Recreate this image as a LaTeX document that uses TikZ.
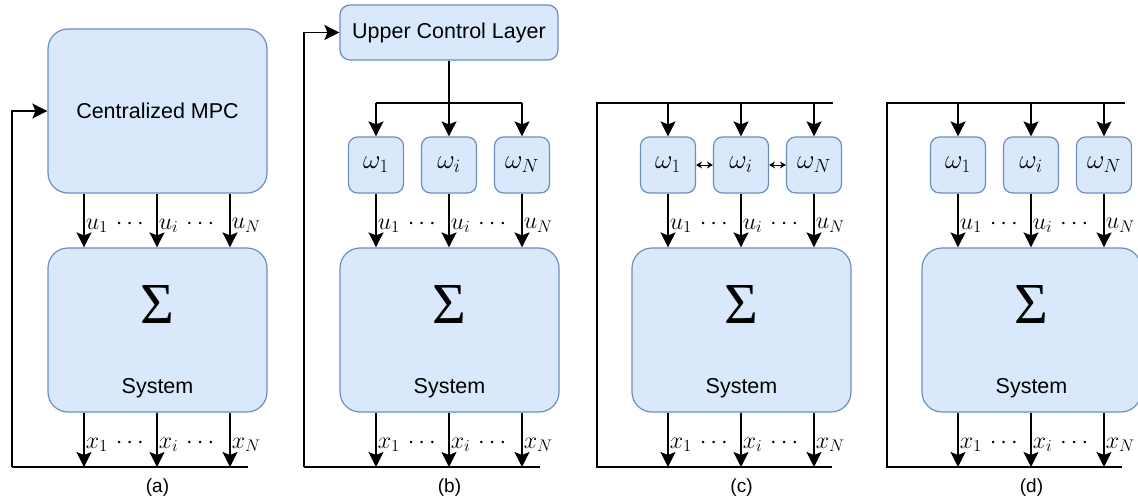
\RequirePackage{fix-cm}
\documentclass[tikz,border=0pt]{standalone}
\usepackage{fontspec}
\setmainfont{Liberation Sans}
\newfontfamily\sigmafont{Liberation Serif}
\usetikzlibrary{arrows.meta,calc}
\definecolor{boxfill}{HTML}{DAE8FC}
\definecolor{boxdraw}{HTML}{6C8EBF}
\newcommand\txtfont{\fontsize{21.5}{25}\selectfont}
\newcommand\ufont{\fontsize{24}{28}\selectfont}
\newcommand\wfont{\fontsize{27}{30}\selectfont}
\begin{document}
\begin{tikzpicture}[x=1pt,y=-1pt,
  bigbox/.style={draw=boxdraw, fill=boxfill, line width=1.2pt, rounded corners=20pt,
    inner sep=0pt, minimum width=219pt, minimum height=164pt, font=\txtfont},
  topbox/.style={draw=boxdraw, fill=boxfill, line width=1.2pt, rounded corners=10pt,
    inner sep=0pt, minimum width=218pt, minimum height=55pt, font=\txtfont},
  wbox/.style={draw=boxdraw, fill=boxfill, line width=1.2pt, rounded corners=9pt,
    minimum width=55pt, minimum height=56pt, inner sep=0pt, font=\wfont},
  arr/.style={line width=1.5pt, -{Stealth[length=15pt,width=15pt,inset=3pt]}},
  ln/.style={line width=1.5pt},
  dbl/.style={line width=1pt, {Stealth[length=6pt,width=7pt]}-{Stealth[length=6pt,width=7pt]}},
  lab/.style={right, inner sep=1pt, font=\ufont},
  sig/.style={font=\sigmafont\fontsize{58}{60}\selectfont, inner sep=0pt},
  systxt/.style={font=\txtfont, inner sep=0pt, anchor=base},
  captxt/.style={font=\fontsize{19}{22}\selectfont, inner sep=0pt}]
\useasboundingbox (0,0) rectangle (1138,501);

% common macro for system box and outputs
\newcommand\systemblock{%
  \coordinate (c1) at (84,0);
  \coordinate (c2) at (157,0);
  \coordinate (c3) at (230,0);
  \node[bigbox] (sys) at (157.5,330) {};
  \node[sig] (sigma) at (157.5,305) {Σ};
  \node[systxt] (systext) at (157.5,393) {System};
  \coordinate (bl) at (12,467);
  \coordinate (br) at (248,467);
  \draw[arr] (sys.south -| c1) -- node[lab, yshift=-5pt] {$x_1\,\cdots$} (bl -| c1);
  \draw[arr] (sys.south -| c2) -- node[lab, yshift=-5pt] {$x_i\,\cdots$} (bl -| c2);
  \draw[arr] (sys.south -| c3) -- node[lab, yshift=-5pt] {$x_N$} (bl -| c3);
}

% ---------------- (a)
\begin{scope}[name prefix=a-]
  \systemblock
  \node[bigbox] (mpc) at (157.5,111) {Centralized MPC};
  \draw[arr] (mpc.south -| c1) -- node[lab, yshift=-5pt] {$u_1\,\cdots$} (sys.north -| c1);
  \draw[arr] (mpc.south -| c2) -- node[lab, yshift=-5pt] {$u_i\,\cdots$} (sys.north -| c2);
  \draw[arr] (mpc.south -| c3) -- node[lab, yshift=-5pt] {$u_N$} (sys.north -| c3);
  \draw[ln] (br) -- (bl);
  \draw[arr] (bl) |- (mpc.west);
  \node[captxt] (cap) at (157.5,488) {(a)};
\end{scope}

% ---------------- (b)
\begin{scope}[xshift=292pt, name prefix=b-]
  \systemblock
  \node[topbox] (ulc) at (157,32.5) {Upper Control Layer};
  \node[wbox] (w1) at (84,165) {$\omega_1$};
  \node[wbox] (wi) at (157,165) {$\omega_i$};
  \node[wbox] (wN) at (230,165) {$\omega_N$};
  \coordinate (j) at (157,103);
  \draw[ln] (ulc.south) -- (j);
  \draw[ln] (j -| w1) -- (j -| wN);
  \draw[arr] (j -| w1) -- (w1.north);
  \draw[arr] (j) -- (wi.north);
  \draw[arr] (j -| wN) -- (wN.north);
  \draw[arr] (w1.south) -- node[lab, yshift=-5pt] {$u_1\,\cdots$} (sys.north -| w1);
  \draw[arr] (wi.south) -- node[lab, yshift=-5pt] {$u_i\,\cdots$} (sys.north -| wi);
  \draw[arr] (wN.south) -- node[lab, yshift=-5pt] {$u_N$} (sys.north -| wN);
  \draw[ln] (br) -- (bl);
  \draw[arr] (bl) |- (ulc.west);
  \node[captxt] (cap) at (157.5,488) {(b)};
\end{scope}

% ---------------- (c)
\begin{scope}[xshift=584pt, name prefix=c-]
  \systemblock
  \node[wbox] (w1) at (84,165) {$\omega_1$};
  \node[wbox] (wi) at (157,165) {$\omega_i$};
  \node[wbox] (wN) at (230,165) {$\omega_N$};
  \coordinate (tl) at (13,103);
  \coordinate (tr) at (249,103);
  \draw[ln] (br) -- (bl -| tl) -- (tl) -- (tr);
  \draw[arr] (tl -| w1) -- (w1.north);
  \draw[arr] (tl -| wi) -- (wi.north);
  \draw[arr] (tl -| wN) -- (wN.north);
  \draw[dbl] (w1.east) -- (wi.west);
  \draw[dbl] (wi.east) -- (wN.west);
  \draw[arr] (w1.south) -- node[lab, yshift=-5pt] {$u_1\,\cdots$} (sys.north -| w1);
  \draw[arr] (wi.south) -- node[lab, yshift=-5pt] {$u_i\,\cdots$} (sys.north -| wi);
  \draw[arr] (wN.south) -- node[lab, yshift=-5pt] {$u_N$} (sys.north -| wN);
  \node[captxt] (cap) at (157.5,488) {(c)};
\end{scope}

% ---------------- (d)
\begin{scope}[xshift=874pt, name prefix=d-]
  \systemblock
  \node[wbox] (w1) at (84,165) {$\omega_1$};
  \node[wbox] (wi) at (157,165) {$\omega_i$};
  \node[wbox] (wN) at (230,165) {$\omega_N$};
  \coordinate (tl) at (13,103);
  \coordinate (tr) at (251,103);
  \draw[ln] (br) -- (bl -| tl) -- (tl) -- (tr);
  \draw[arr] (tl -| w1) -- (w1.north);
  \draw[arr] (tl -| wi) -- (wi.north);
  \draw[arr] (tl -| wN) -- (wN.north);
  \draw[arr] (w1.south) -- node[lab, yshift=-5pt] {$u_1\,\cdots$} (sys.north -| w1);
  \draw[arr] (wi.south) -- node[lab, yshift=-5pt] {$u_i\,\cdots$} (sys.north -| wi);
  \draw[arr] (wN.south) -- node[lab, yshift=-5pt] {$u_N$} (sys.north -| wN);
  \node[captxt] (cap) at (157.5,488) {(d)};
\end{scope}
\end{tikzpicture}
\end{document}
